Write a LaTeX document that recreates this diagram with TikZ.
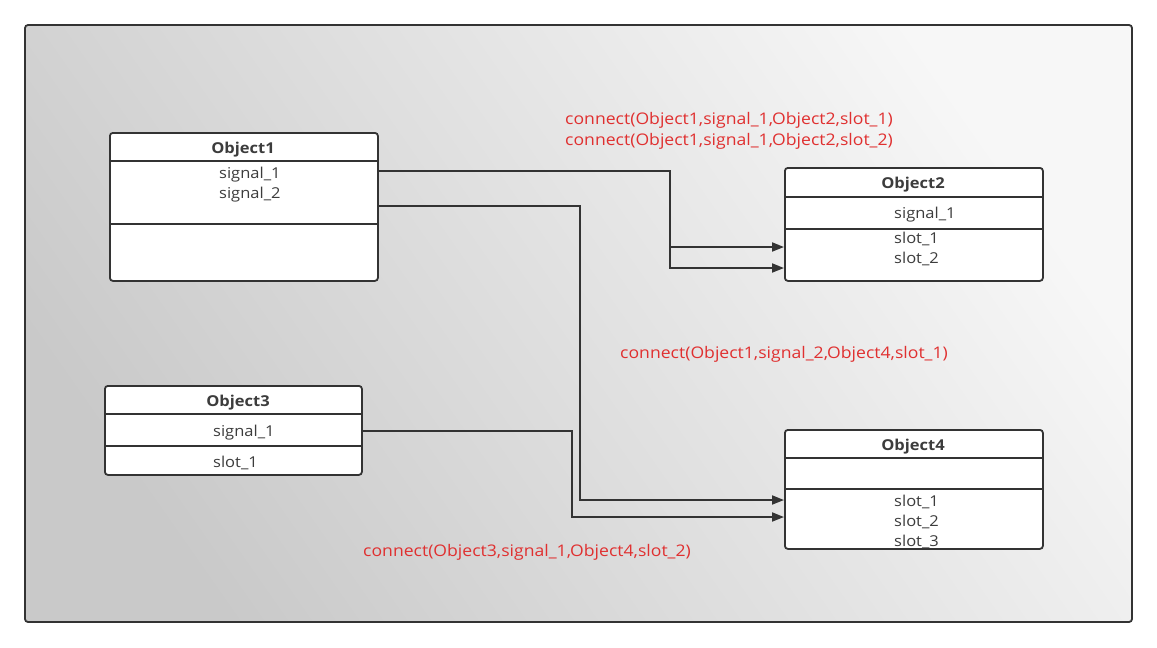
\documentclass[tikz,border=0pt]{standalone}
\usepackage{fontspec}
\setmainfont{Open Sans}
\newfontfamily\widefont[FakeStretch=1.1]{Open Sans}
\usetikzlibrary{arrows.meta}
\definecolor{edge}{HTML}{333333}
\definecolor{txt}{HTML}{3C3C3C}
\definecolor{lbl}{HTML}{E03030}
\tikzset{
  frame/.style={draw=edge, line width=1.8pt, rounded corners=3pt, top color=white!97!black, bottom color=white!79!black, shading angle=-55},
  box/.style={draw=edge, line width=1.8pt, fill=white, rounded corners=3pt, anchor=north west, inner sep=0pt},
  div/.style={draw=edge, line width=1.8pt},
  title/.style={font=\widefont\fontsize{15}{17}\selectfont\bfseries, text=txt, inner sep=0pt},
  member/.style={font=\widefont\fontsize{15}{17}\selectfont, text=txt, inner sep=0pt, anchor=west},
  conn/.style={draw=edge, line width=1.8pt, -{Triangle[length=12pt,width=9pt]}},
  redlabel/.style={font=\widefont\fontsize{16}{18}\selectfont, text=lbl, inner sep=0pt, anchor=west}
}
\begin{document}
\begin{tikzpicture}[x=1pt,y=-1pt]
\useasboundingbox (0,0) rectangle (1157,648);
\fill[white] (0,0) rectangle (1157,648);
\path[frame] (25,25) rectangle (1132,622);

% Object1
\node[box, minimum width=268pt, minimum height=148pt] (o1) at (109,132) {};
\draw[div] (o1.west |- 0,161) -- (o1.east |- 0,161);
\draw[div] (o1.west |- 0,224) -- (o1.east |- 0,224);
\node[title] (o1t) at (243,150) {Object1};
\node[member] (o1s1) at (219,175) {signal\_1};
\node[member] (o1s2) at (219,195) {signal\_2};

% Object2
\node[box, minimum width=258pt, minimum height=113pt] (o2) at (784,167) {};
\draw[div] (o2.west |- 0,197) -- (o2.east |- 0,197);
\draw[div] (o2.west |- 0,229) -- (o2.east |- 0,229);
\node[title] (o2t) at (913,185) {Object2};
\node[member] (o2s1) at (894,215) {signal\_1};
\node[member] (o2l1) at (894,239) {slot\_1};
\node[member] (o2l2) at (894,259) {slot\_2};

% Object3
\node[box, minimum width=257pt, minimum height=89pt] (o3) at (104,385) {};
\draw[div] (o3.west |- 0,414) -- (o3.east |- 0,414);
\draw[div] (o3.west |- 0,446) -- (o3.east |- 0,446);
\node[title] (o3t) at (238,403) {Object3};
\node[member] (o3s1) at (213,433) {signal\_1};
\node[member] (o3l1) at (213,463) {slot\_1};

% Object4
\node[box, minimum width=258pt, minimum height=119pt] (o4) at (784,429) {};
\draw[div] (o4.west |- 0,458) -- (o4.east |- 0,458);
\draw[div] (o4.west |- 0,489) -- (o4.east |- 0,489);
\node[title] (o4t) at (913,447) {Object4};
\node[member] (o4l1) at (894,502) {slot\_1};
\node[member] (o4l2) at (894,522) {slot\_2};
\node[member] (o4l3) at (894,542) {slot\_3};

% ports
\coordinate (o1p1) at (o1.east |- 0,171);
\coordinate (o1p2) at (o1.east |- 0,206);
\coordinate (o3p1) at (o3.east |- 0,431);
\coordinate (o2in1) at (o2.west |- 0,247);
\coordinate (o2in2) at (o2.west |- 0,268);
\coordinate (o4in1) at (o4.west |- 0,500);
\coordinate (o4in2) at (o4.west |- 0,517);
\coordinate (j1) at (670,171);

% connectors
\draw[conn] (o1p1) -- (j1) |- (o2in1);
\draw[conn] (j1) |- (o2in2);
\draw[conn] (o1p2) -- (580,206) |- (o4in1);
\draw[conn] (o3p1) -- (572,431) |- (o4in2);

% labels
\node[redlabel] (c1) at (565,120) {connect(Object1,signal\_1,Object2,slot\_1)};
\node[redlabel] (c2) at (565,141) {connect(Object1,signal\_1,Object2,slot\_2)};
\node[redlabel] (c3) at (620,354) {connect(Object1,signal\_2,Object4,slot\_1)};
\node[redlabel] (c4) at (363,552) {connect(Object3,signal\_1,Object4,slot\_2)};
\end{tikzpicture}
\end{document}
